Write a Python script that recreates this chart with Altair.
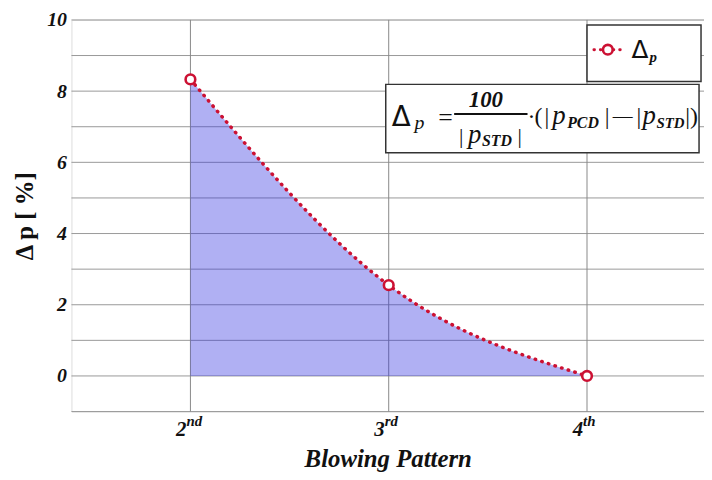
import altair as alt
import pandas as pd

# ---- data ----
patterns = [2, 3, 4]
delta_p = [8.33, 2.55, 0.0]
tick_digits = ["2", "3", "4"]
tick_sups = ["nd", "rd", "th"]
y_grid = list(range(-1, 11))
y_labels = [0, 2, 4, 6, 8, 10]

df = pd.DataFrame({"x": patterns, "y": delta_p, "d": tick_digits, "s": tick_sups})
gy = pd.DataFrame({"g": y_grid})
one = pd.DataFrame({"k": [0]})

W, H = 638, 395
RED = "#cc1133"
SERIF = "Liberation Serif"

xs = alt.Scale(domain=[1.4, 4.59], nice=False, zero=False)
ys = alt.Scale(domain=[-1, 10], nice=False, zero=False)

base = alt.Chart(df)

hgrid = alt.Chart(gy).mark_rule(color="#999", strokeWidth=1).encode(
    y=alt.Y("g:Q", scale=ys,
            axis=alt.Axis(values=y_labels, ticks=False, domain=False, grid=False,
                          labelFont=SERIF, labelFontSize=20, labelFontWeight="bold",
                          labelFontStyle="italic", labelColor="#111", labelPadding=5,
                          labelOverlap=False, labelBound=False, labelFlush=False,
                          title="Δ p [ %]", titleFont=SERIF, titleFontSize=25,
                          titleFontWeight="bold", titleColor="#111", titlePadding=9)))

vgrid = base.mark_rule(color="#888", strokeWidth=1).encode(
    x=alt.X("x:Q", scale=xs,
            axis=alt.Axis(values=patterns, labels=False, ticks=False, domain=False, grid=False,
                          title="Blowing Pattern", titleFont=SERIF, titleFontSize=25,
                          titleFontWeight="bold", titleFontStyle="italic",
                          titleColor="#111", titlePadding=35)))

area = base.mark_area(interpolate="monotone", color="#3030e0", opacity=0.38).encode(
    x=alt.X("x:Q", scale=xs), y=alt.Y("y:Q", scale=ys), y2=alt.datum(0))

line = base.mark_line(interpolate="monotone", color=RED, strokeDash=[0.5, 6.5],
                      strokeWidth=3.5, strokeCap="round").encode(
    x=alt.X("x:Q", scale=xs), y=alt.Y("y:Q", scale=ys))

pts = base.mark_point(shape="circle", size=95, color=RED, fill="white", fillOpacity=1,
                      strokeWidth=2.6, opacity=1).encode(
    x=alt.X("x:Q", scale=xs), y=alt.Y("y:Q", scale=ys))

digits = base.mark_text(font=SERIF, fontSize=21, fontWeight="bold", fontStyle="italic",
                        align="right", baseline="alphabetic", dx=-4, color="#111").encode(
    x=alt.X("x:Q", scale=xs), y=alt.value(420), text="d:N")
sups = base.mark_text(font=SERIF, fontSize=15, fontWeight="bold", fontStyle="italic",
                      align="left", baseline="alphabetic", dx=-4, color="#111").encode(
    x=alt.X("x:Q", scale=xs), y=alt.value(410), text="s:N")


def box(x1, x2, y1, y2):
    return alt.Chart(one).mark_rect(fill="white", stroke="#333", strokeWidth=1.5).encode(
        x=alt.value(x1), x2=alt.value(x2), y=alt.value(y1), y2=alt.value(y2))


def txt(s, x, y, size, font=SERIF, weight="normal", style="normal", color="#111", align="left"):
    return alt.Chart(one).mark_text(text=s, font=font, fontSize=size, fontWeight=weight,
                                    fontStyle=style, color=color, align=align,
                                    baseline="alphabetic").encode(
        x=alt.value(x), y=alt.value(y))


legend_box = box(520, 635, 5, 62)
leg_line = alt.Chart(one).mark_rule(color=RED, strokeDash=[0.5, 6], strokeWidth=3,
                                    strokeCap="round").encode(
    x=alt.value(527), x2=alt.value(555), y=alt.value(30))
leg_pt = alt.Chart(one).mark_point(shape="circle", size=95, color=RED, fill="white",
                                   fillOpacity=1, strokeWidth=2.6, opacity=1).encode(
    x=alt.value(541), y=alt.value(30))
leg_d = txt("Δ", 565, 38, 25, font="DejaVu Sans")
leg_p = txt("p", 583, 42, 15, style="italic", weight="bold")

formula_box = box(317, 633, 65, 134)
fbar = alt.Chart(one).mark_rule(color="#111", strokeWidth=2).encode(
    x=alt.value(386), x2=alt.value(460), y=alt.value(95))
f_parts = [
    txt("Δ", 323, 107, 28, font="DejaVu Sans"),
    txt("p", 346, 110, 20, style="italic"),
    txt("=", 370, 107, 26),
    txt("100", 418, 88, 23, weight="bold", style="italic", align="center"),
    txt("|", 391, 124, 22),
    txt("p", 400, 124, 27, style="italic"),
    txt("STD", 414, 127, 16, weight="bold", style="italic"),
    txt("|", 450, 124, 22),
    txt("·", 460, 105, 24),
    txt("(", 467, 105, 24),
    txt("|", 477, 105, 24),
    txt("p", 485, 105, 27, style="italic"),
    txt("PCD", 500, 109, 16, weight="bold", style="italic"),
    txt("|", 538, 105, 24),
    txt("—", 546, 103, 20),
    txt("|", 570, 105, 24),
    txt("p", 576, 105, 27, style="italic"),
    txt("STD", 590, 109, 15, weight="bold", style="italic"),
    txt("|", 619, 105, 24),
    txt(")", 624, 105, 24),
]

chart = alt.layer(hgrid, vgrid, area, line, pts, digits, sups, legend_box, leg_line, leg_pt,
                  leg_d, leg_p, formula_box, fbar, *f_parts).properties(
    width=W, height=H,
    padding={"left": 64, "top": 10, "right": 0, "bottom": 66},
    autosize=alt.AutoSizeParams(type="none"),
).configure_view(stroke="#333", strokeWidth=1.5).configure(background="white")

chart.save("out.html", embed_options={"renderer": "svg", "actions": False})
